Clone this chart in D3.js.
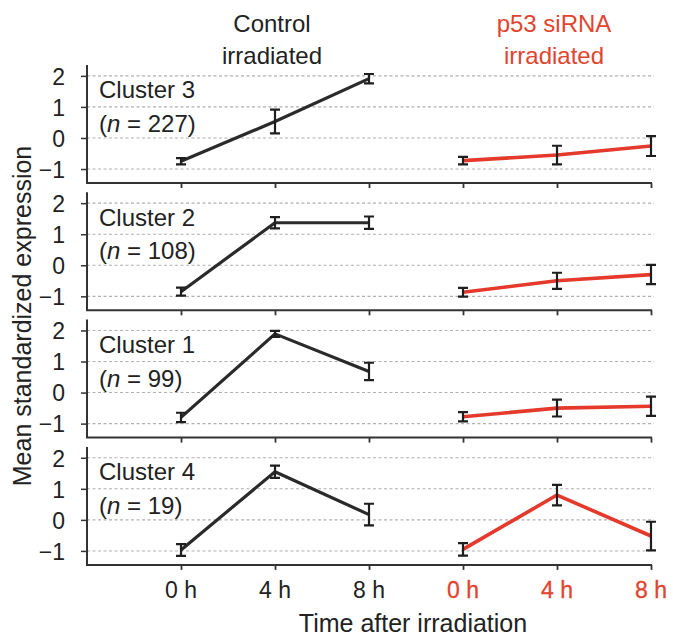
<!DOCTYPE html>
<html>
<head>
<meta charset="utf-8">
<script src="https://cdn.jsdelivr.net/npm/d3@7"></script>
<style>
  html, body { margin: 0; padding: 0; background: #fff; }
  svg { display: block; }
  text { font-family: "Liberation Sans", Arial, Helvetica, sans-serif; fill: #222; }
</style>
</head>
<body>
<svg id="chart" width="673" height="637"></svg>
<script>
// ---- data ----
const clusters = ["Cluster 3", "Cluster 2", "Cluster 1", "Cluster 4"];
const clusterN = [227, 108, 99, 19];
const timeLabels = ["0 h", "4 h", "8 h"];
const conditions = ["Control\nirradiated", "p53 siRNA\nirradiated"];
const yTicks = [-1, 0, 1, 2];
const controlMean = [
  [-0.75, 0.53, 1.91],
  [-0.85, 1.37, 1.37],
  [-0.80, 1.89, 0.68],
  [-0.97, 1.55, 0.17]
];
const controlErr = [
  [0.10, 0.38, 0.15],
  [0.13, 0.18, 0.20],
  [0.15, 0.10, 0.28],
  [0.19, 0.20, 0.35]
];
const sirnaMean = [
  [-0.73, -0.55, -0.26],
  [-0.87, -0.50, -0.30],
  [-0.78, -0.50, -0.44],
  [-0.95, 0.80, -0.52]
];
const sirnaErr = [
  [0.12, 0.30, 0.32],
  [0.14, 0.26, 0.31],
  [0.15, 0.27, 0.31],
  [0.20, 0.33, 0.46]
];

// ---- layout ----
const svg = d3.select("#chart");
const RED = "#e4392b";
const RED_TEXT = "#e2452f";
const LINE_DARK = "#2a2a2a";
const axisLeft = 87, axisRight = 652, gridRight = 654;
const panelTop0 = 65, panelH = 118, panelStep = 127.3;

const keys = [];
["c", "s"].forEach(g => timeLabels.forEach((t, i) => keys.push(g + i)));
const x = d3.scalePoint().domain(keys).range([181, 651]);

clusters.forEach((name, i) => {
  const top = panelTop0 + i * panelStep;
  const bottom = top + panelH;
  const y = d3.scaleLinear().domain([-1.45, 2.35]).range([bottom, top]);
  const g = svg.append("g");

  // gridlines
  g.selectAll("line.grid").data(yTicks).join("line")
    .attr("x1", axisLeft).attr("x2", gridRight)
    .attr("y1", d => y(d)).attr("y2", d => y(d))
    .attr("stroke", "#b0b0b0").attr("stroke-width", 1.1)
    .attr("stroke-dasharray", "3,2.5");

  // left axis
  const ya = d3.axisLeft(y).tickValues(yTicks).tickSize(6).tickPadding(16)
    .tickFormat(d => d < 0 ? "\u2212" + Math.abs(d) : d);
  const yg = g.append("g").attr("transform", `translate(${axisLeft},0)`).call(ya);
  yg.select(".domain").remove();
  yg.selectAll(".tick line").attr("stroke", "#333").attr("stroke-width", 1.5);
  yg.selectAll(".tick text").attr("font-size", 23).attr("fill", "#222")
    .attr("font-family", '"Liberation Sans", Arial, sans-serif').attr("dy", "0.36em");

  // bottom axis
  const xa = d3.axisBottom(x).tickSize(5).tickFormat("");
  const xg = g.append("g").attr("transform", `translate(0,${bottom})`).call(xa);
  xg.select(".domain").remove();
  xg.selectAll(".tick line").attr("stroke", "#333").attr("stroke-width", 1.8);

  // spines (L-shape)
  g.append("path")
    .attr("d", `M${axisLeft},${top}V${bottom}H${axisRight}`)
    .attr("fill", "none").attr("stroke", "#333").attr("stroke-width", 2);

  // lines
  const line = d3.line().x(d => x(d.k)).y(d => y(d.v));
  const cData = controlMean[i].map((v, j) => ({ k: "c" + j, v, e: controlErr[i][j] }));
  const sData = sirnaMean[i].map((v, j) => ({ k: "s" + j, v, e: sirnaErr[i][j] }));
  g.append("path").attr("d", line(cData)).attr("fill", "none")
    .attr("stroke", LINE_DARK).attr("stroke-width", 3.2).attr("stroke-linejoin", "round");
  g.append("path").attr("d", line(sData)).attr("fill", "none")
    .attr("stroke", RED).attr("stroke-width", 3.6).attr("stroke-linejoin", "round");

  // error bars
  const cap = 5;
  [...cData, ...sData].forEach(d => {
    const cx = x(d.k), y1 = y(d.v + d.e), y2 = y(d.v - d.e);
    g.append("path")
      .attr("d", `M${cx},${y1}V${y2}M${cx - cap},${y1}H${cx + cap}M${cx - cap},${y2}H${cx + cap}`)
      .attr("fill", "none").attr("stroke", "#1e1e1e").attr("stroke-width", 2.2);
  });

  // cluster labels
  g.append("text").attr("x", 99).attr("y", y(0) - 39.5)
    .attr("font-size", 24).text(name);
  const t2 = g.append("text").attr("x", 99).attr("y", y(0) - 6).attr("font-size", 24);
  t2.append("tspan").text("(");
  t2.append("tspan").attr("font-style", "italic").text("n");
  t2.append("tspan").text(" = " + clusterN[i] + ")");
});

// condition headers
conditions.forEach((c, gi) => {
  const cx = x((gi === 0 ? "c" : "s") + "1") - 3;
  const lines = c.split("\n");
  lines.forEach((ln, li) => {
    svg.append("text").attr("x", cx).attr("y", 32 + li * 32)
      .attr("text-anchor", "middle").attr("font-size", 24)
      .style("fill", gi === 0 ? "#222" : RED_TEXT)
      .text(ln);
  });
});

// x tick labels
keys.forEach(k => {
  const isRed = k[0] === "s";
  svg.append("text").attr("x", x(k)).attr("y", 598)
    .attr("text-anchor", "middle").attr("font-size", 23)
    .style("fill", isRed ? RED_TEXT : "#222")
    .attr("stroke", isRed ? RED_TEXT : "none").attr("stroke-width", isRed ? 0.3 : 0)
    .text(timeLabels[+k[1]]);
});

// axis titles
svg.append("text").attr("x", 413).attr("y", 632)
  .attr("text-anchor", "middle").attr("font-size", 25)
  .text("Time after irradiation");
svg.append("text")
  .attr("transform", "translate(31,316) rotate(-90)")
  .attr("text-anchor", "middle").attr("font-size", 25)
  .text("Mean standardized expression");
</script>
</body>
</html>
